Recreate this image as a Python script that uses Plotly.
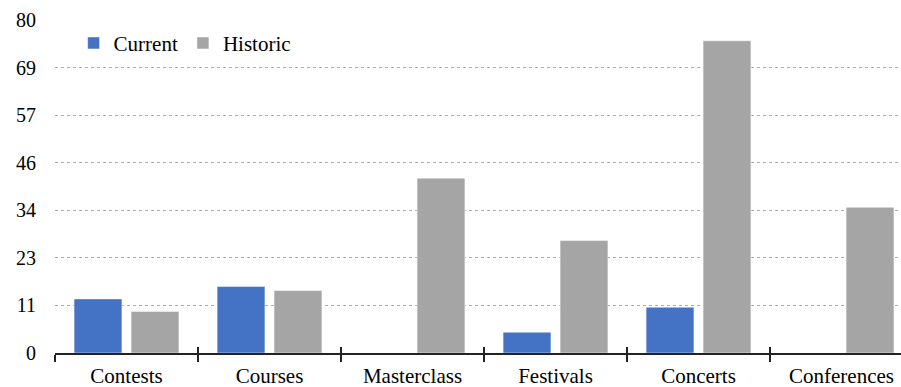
import plotly.graph_objects as go

categories = ["Contests", "Courses", "Masterclass", "Festivals", "Concerts", "Conferences"]
current = [13, 16, 0, 5, 11, 0]
historic = [10, 15, 42, 27, 75, 35]
y_max = 80
y_tick_count = 7

tick_vals = [y_max * i / y_tick_count for i in range(y_tick_count + 1)]
tick_text = [str(round(v)) for v in tick_vals]

FAMILY = "'Times New Roman', 'Liberation Serif', 'DejaVu Serif', serif"
FONT = dict(family=FAMILY, size=20, color="#000000")
LABEL_FONT = dict(family=FAMILY, size=21, color="#000000")

fig = go.Figure()
fig.add_trace(go.Bar(name="Current", x=categories, y=current,
                     marker=dict(color="#4472C4", line=dict(color="#FFFFFF", width=0.5))))
fig.add_trace(go.Bar(name="Historic", x=categories, y=historic,
                     marker=dict(color="#A5A5A5", line=dict(color="#FFFFFF", width=0.5))))
# empty companion trace so the overlay axis can draw the inner half of the boundary ticks
fig.add_trace(go.Bar(x=categories, y=[None] * len(categories), xaxis="x2",
                     showlegend=False, hoverinfo="skip"))

x_range = [-0.5, 5.416]

fig.update_layout(
    width=901, height=387,
    margin=dict(l=55, r=0, t=20, b=34),
    paper_bgcolor="#FFFFFF", plot_bgcolor="#FFFFFF",
    font=FONT,
    barmode="group", bargap=0.203, bargroupgap=0.16,
    showlegend=True,
    legend=dict(orientation="h", x=0.022, y=0.93, xanchor="left", yanchor="middle",
                font=LABEL_FONT, bgcolor="rgba(0,0,0,0)", itemwidth=30,
                traceorder="normal"),
    xaxis=dict(type="category", categoryarray=categories, range=x_range,
               showgrid=False, showline=True, linecolor="#222222", linewidth=1.5,
               ticks="outside", tickson="boundaries", ticklen=7, tickcolor="#222222",
               tickwidth=1.5, tickfont=LABEL_FONT, ticklabelstandoff=3, fixedrange=True),
    xaxis2=dict(type="category", categoryarray=categories, range=x_range,
                overlaying="x", anchor="y", side="bottom",
                showgrid=False, showline=False, showticklabels=False,
                ticks="inside", tickson="boundaries", ticklen=6, tickcolor="#222222",
                tickwidth=1.5),
    yaxis=dict(range=[0, y_max], tickvals=tick_vals, ticktext=tick_text,
               showgrid=True, gridcolor="#ABABAB", griddash="dot", gridwidth=1,
               zeroline=False, showline=False, ticks="", tickfont=FONT,
               ticklabelstandoff=18, fixedrange=True),
)

fig.write_html("out.html")
